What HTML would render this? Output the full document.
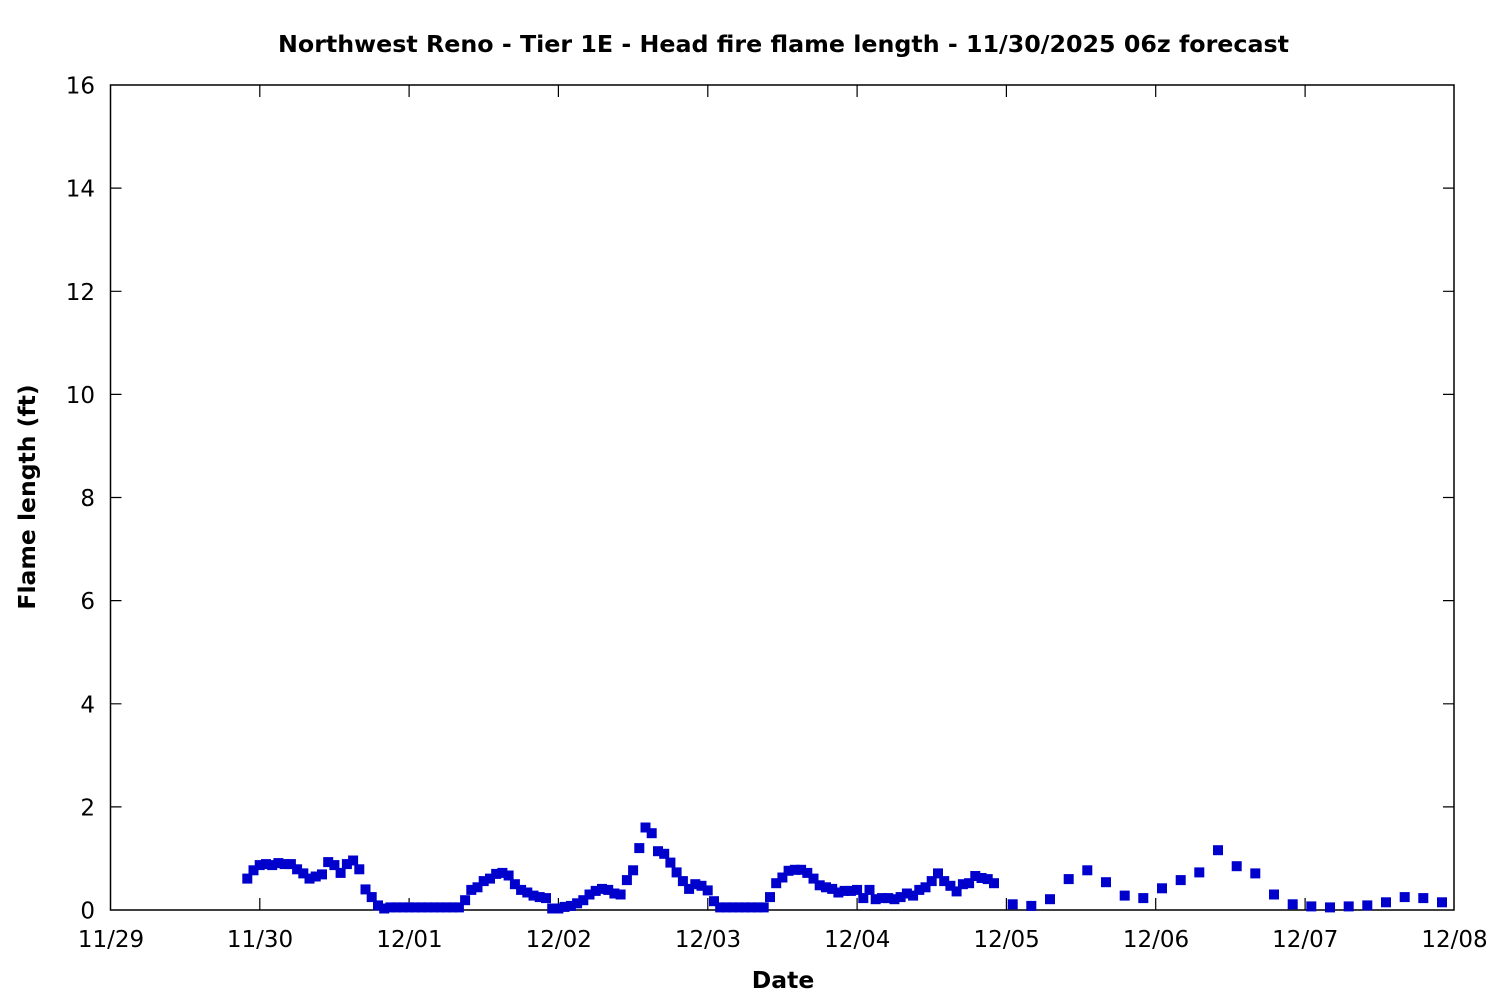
<!DOCTYPE html>
<html>
<head>
<meta charset="utf-8">
<style>
html,body{margin:0;padding:0;background:#fff;}
svg{display:block;}
text{font-family:"DejaVu Sans","Liberation Sans",sans-serif;fill:#000;}
</style>
</head>
<body>
<svg width="1500" height="1000" viewBox="0 0 1500 1000" xmlns="http://www.w3.org/2000/svg">
<defs>
<marker id="sq" markerUnits="userSpaceOnUse" markerWidth="10" markerHeight="10" refX="4.5" refY="4.5" viewBox="0 0 9 9" overflow="visible">
<rect x="0" y="0" width="9" height="9" fill="#0000cc"/>
</marker>
</defs>
<rect width="1500" height="1000" fill="#fff"/>

<!-- title -->
<text x="783.5" y="52" font-size="23.5" font-weight="bold" text-anchor="middle" textLength="1011" lengthAdjust="spacingAndGlyphs">Northwest Reno - Tier 1E - Head fire flame length - 11/30/2025 06z forecast</text>

<!-- ticks -->
<g stroke="#000" stroke-width="1.2" fill="none">
<path d="M110.5 806.9h11M110.5 703.8h11M110.5 600.6h11M110.5 497.5h11M110.5 394.4h11M110.5 291.3h11M110.5 188.1h11
M1454 806.9h-11M1454 703.8h-11M1454 600.6h-11M1454 497.5h-11M1454 394.4h-11M1454 291.3h-11M1454 188.1h-11"/>
<path d="M259.8 910v-12M409.1 910v-12M558.4 910v-12M707.8 910v-12M857.1 910v-12M1006.4 910v-12M1155.7 910v-12M1305.1 910v-12
M259.8 85v12M409.1 85v12M558.4 85v12M707.8 85v12M857.1 85v12M1006.4 85v12M1155.7 85v12M1305.1 85v12"/>
</g>
<rect x="110.5" y="85" width="1343.5" height="825" fill="none" stroke="#000" stroke-width="1.5"/>

<!-- y tick labels -->
<g font-size="23" text-anchor="end">
<text x="95" y="918.5">0</text>
<text x="95" y="815.4">2</text>
<text x="95" y="712.3">4</text>
<text x="95" y="609.1">6</text>
<text x="95" y="506">8</text>
<text x="95" y="402.9">10</text>
<text x="95" y="299.8">12</text>
<text x="95" y="196.6">14</text>
<text x="95" y="93.5">16</text>
</g>
<!-- x tick labels -->
<g font-size="23" text-anchor="middle">
<text x="111" y="947">11/29</text>
<text x="260" y="947">11/30</text>
<text x="409.5" y="947">12/01</text>
<text x="558.8" y="947">12/02</text>
<text x="708" y="947">12/03</text>
<text x="857.3" y="947">12/04</text>
<text x="1006.6" y="947">12/05</text>
<text x="1156" y="947">12/06</text>
<text x="1305.3" y="947">12/07</text>
<text x="1454.5" y="947">12/08</text>
</g>

<!-- axis labels -->
<text x="783" y="988" font-size="23.5" font-weight="bold" text-anchor="middle">Date</text>
<text transform="translate(35,497) rotate(-90)" font-size="23.5" font-weight="bold" text-anchor="middle">Flame length (ft)</text>

<!-- data -->
<polyline fill="none" stroke="none" marker-start="url(#sq)" marker-mid="url(#sq)" marker-end="url(#sq)" points="
247.3,878.6 253.5,870.3 259.7,865.1 266.0,864.1 272.2,865.1 278.4,863.1 284.6,864.1 290.9,864.1 297.1,869.3 303.3,873.4
309.5,878.6 315.7,876.5 322.0,874.4 328.2,862.1 334.4,865.1 340.6,872.9 346.9,864.1 353.1,860.5 359.3,869.3 365.5,889.4
371.7,897.1 378.0,905.4 384.2,908.5 390.4,907.4 396.6,907.4 402.9,907.4 409.1,907.4 415.3,907.4 421.5,907.4 427.7,907.4
434.0,907.4 440.2,907.4 446.4,907.4 452.6,907.4 458.9,907.4 465.1,900.2 471.3,889.9 477.5,887.3 483.7,881.1 490.0,878.6
496.2,873.9 502.4,872.9 508.6,875.5 514.9,884.2 521.1,889.9 527.3,892.5 533.5,895.6 539.7,897.1 546.0,898.1 552.2,908.5
558.4,908.5 564.6,906.9 570.9,905.9 577.1,903.3 583.3,900.2 589.5,894.5 595.7,890.9 602.0,888.9 608.2,889.9 614.4,893.5
620.6,894.5 626.9,880.1 633.1,870.3 639.3,848.1 645.5,827.5 651.7,833.2 658.0,851.2 664.2,853.8 670.4,862.6 676.6,872.4
682.9,881.1 689.1,888.9 695.3,884.2 701.5,885.8 707.7,890.4 714.0,901.2 720.2,907.4 726.4,907.4 732.6,907.4 738.9,907.4
745.1,907.4 751.3,907.4 757.5,907.4 763.7,907.4 770.0,897.1 776.2,883.2 782.4,877.5 788.6,870.8 794.9,869.8 801.1,869.8
807.3,872.9 813.5,878.6 819.7,885.3 826.0,887.3 832.2,888.9 838.4,892.5 844.6,890.9 850.9,890.9 857.1,889.9 863.3,898.1
869.5,889.9 875.7,899.2 882.0,898.1 888.2,898.1 894.4,899.2 900.6,897.1 906.9,893.5 913.1,895.6 919.3,889.9 925.5,887.3
931.7,881.1 938.0,873.4 944.2,881.1 950.4,885.8 956.6,891.4 962.9,884.2 969.1,883.2 975.3,876.0 981.5,878.0 987.7,879.1
994.0,883.2
1012.7,904.3 1031.3,905.9 1050.0,899.2 1068.7,879.1 1087.3,870.3 1106.0,882.2 1124.7,895.6 1143.3,898.1
1162.0,888.3 1180.7,880.1 1199.3,872.4 1218.0,850.2 1236.7,866.2 1255.3,873.4 1274.0,894.5 1292.7,904.3
1311.3,906.4 1330.0,907.4 1348.7,906.4 1367.3,905.4 1386.0,902.3 1404.7,897.1 1423.3,898.1 1442.0,902.3"/>
</svg>
</body>
</html>
